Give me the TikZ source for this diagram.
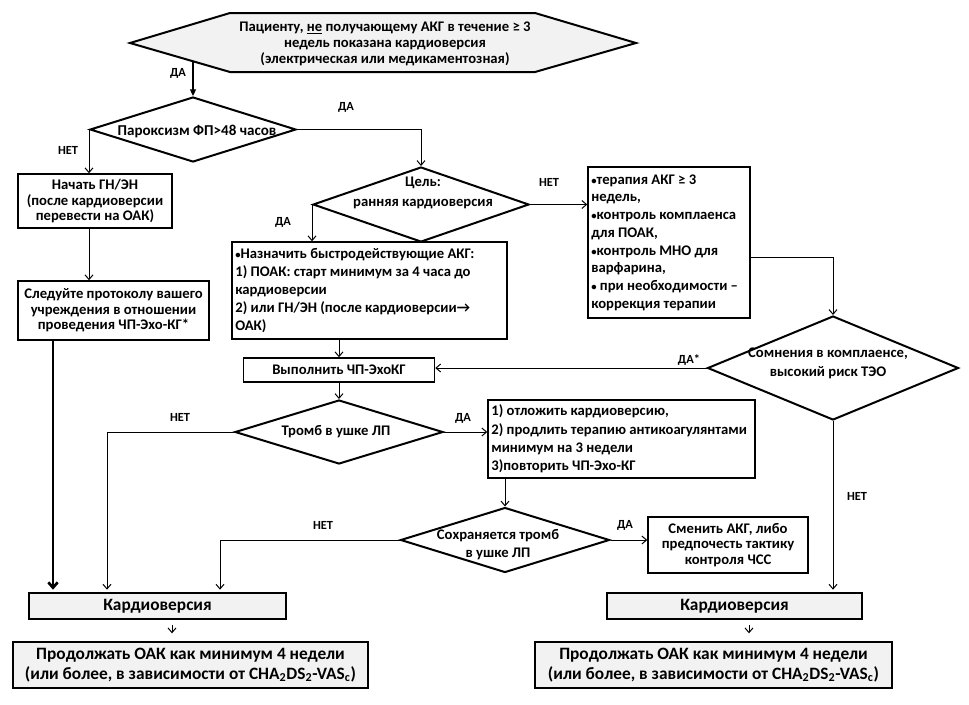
\documentclass[tikz,border=0pt]{standalone}
\usepackage{fontspec}
\setmainfont{Carlito}
\usetikzlibrary{arrows.meta,shapes.geometric,calc}
\definecolor{lightfill}{RGB}{242,242,242}
\begin{document}
\begin{tikzpicture}[x=0.75pt,y=-0.75pt,
  every node/.style={font=\bfseries\fontsize{11}{11.6}\selectfont, text=black},
  boxc/.style={draw, line width=1.1pt, inner sep=0pt, align=center},
  boxl/.style={draw, line width=1.1pt, inner xsep=2.5pt, inner ysep=0pt, align=flush left},
  graybox/.style={draw, line width=1pt, fill=lightfill, inner sep=0pt, align=center,
     font=\bfseries\fontsize{13}{15}\selectfont},
  decision/.style={draw, diamond, line width=1.5pt, inner sep=0pt, fill=white},
  dtext/.style={align=center, inner sep=0pt},
  lbl/.style={font=\bfseries\fontsize{9.3}{10}\selectfont, inner sep=0pt},
  arr/.style={line width=0.75pt, -{Straight Barb[length=3.5pt,width=6pt]}},
  thickarr/.style={line width=2.2pt, -{Straight Barb[length=4pt,width=7pt,line width=2pt]}},
  filledarr/.style={line width=0.8pt, -{Triangle[length=5pt,width=4.5pt]}},
]
\useasboundingbox (0,0) rectangle (969,704);

% top hexagon
\draw[line width=1.5pt, fill=lightfill] (130,43) -- (230,13) -- (535,13) -- (636,43) -- (535,72) -- (230,72) -- cycle;
\node[dtext, font=\bfseries\fontsize{11}{12.2}\selectfont] (hex) at (385,44)
  {Пациенту, \underline{не} получающему АКГ в течение ≥ 3\\недель показана кардиоверсия\\(электрическая или медикаментозная)};
\coordinate (hexout) at (193,61.5);

% decisions
\node[decision, minimum width=154.5pt, minimum height=48.75pt] (d1) at (193,129.5) {};
\node[dtext, font=\bfseries\fontsize{11.3}{12}\selectfont] (d1t) at (197,131) {Пароксизм ФП>48 часов};

\node[decision, minimum width=162pt, minimum height=56.25pt] (d2) at (421,204.5) {};
\node[dtext, font=\bfseries\fontsize{11}{15}\selectfont] (d2t) at (423,193) {Цель:\\ранняя кардиоверсия};

\node[decision, minimum width=188.25pt, minimum height=78pt] (d3) at (833,368) {};
\node[dtext, font=\bfseries\fontsize{11}{14.2}\selectfont] (d3t) at (828,363) {Сомнения в комплаенсе,\\высокий риск ТЭО};

\node[decision, minimum width=156pt, minimum height=48pt] (d4) at (339,432) {};
\node[dtext] (d4t) at (336,432) {Тромб в ушке ЛП};

\node[decision, minimum width=156.75pt, minimum height=48.75pt] (d5) at (505,540) {};
\node[dtext, font=\bfseries\fontsize{11}{13.5}\selectfont] (d5t) at (498,545) {Сохраняется тромб\\в ушке ЛП};

% boxes
\node[boxc, minimum width=115.5pt, minimum height=40.5pt] (nachat) at (95,201)
  {Начать ГН/ЭН\\(после кардиоверсии\\перевести на ОАК)};
\node[boxc, minimum width=143.25pt, minimum height=44.25pt] (sled) at (113.5,310.5)
  {Следуйте протоколу вашего\\учреждения в отношении\\проведения ЧП-Эхо-КГ*};
\node[boxl, text width=201.25pt, minimum height=72.75pt, font=\bfseries\fontsize{11}{13.6}\selectfont] (nazn) at (369.5,290.5)
  {{\fontsize{8}{8}\selectfont•}Назначить быстродействующие АКГ:\\1) ПОАК: старт минимум за 4 часа до\\кардиоверсии\\2) или ГН/ЭН (после кардиоверсии→\\ОАК)};
\node[boxl, text width=116.5pt, minimum height=113.25pt, font=\bfseries\fontsize{11}{13.3}\selectfont] (ter) at (669,242.5)
  {{\fontsize{8}{8}\selectfont•}терапия АКГ ≥ 3\\недель,\\{\fontsize{8}{8}\selectfont•}контроль комплаенса\\для ПОАК,\\{\fontsize{8}{8}\selectfont•}контроль МНО для\\варфарина,\\{\fontsize{8}{8}\selectfont•} при необходимости –\\коррекция терапии};
\node[boxc, minimum width=143.25pt, minimum height=18pt] (vyp) at (339,370) {Выполнить ЧП-ЭхоКГ};
\node[boxl, text width=195.25pt, minimum height=58.5pt, font=\bfseries\fontsize{11}{13.7}\selectfont] (otl) at (621.5,439)
  {1) отложить кардиоверсию,\\2) продлить терапию антикоагулянтами\\минимум на 3 недели\\3)повторить ЧП-Эхо-КГ};
\node[boxc, minimum width=120pt, minimum height=42pt] (smen) at (728,545)
  {Сменить АКГ, либо\\предпочесть тактику\\контроля ЧСС};

\node[graybox, minimum width=192.75pt, minimum height=19.5pt] (kard1) at (157.5,606) {Кардиоверсия};
\node[graybox, minimum width=266.25pt, minimum height=34.5pt] (prod1) at (190.5,665)
  {Продолжать ОАК как минимум 4 недели\\(или более, в зависимости от CHA\textsubscript{2}DS\textsubscript{2}-VAS\textsubscript{c})};
\node[graybox, minimum width=191.25pt, minimum height=19.5pt] (kard2) at (734.5,606) {Кардиоверсия};
\node[graybox, minimum width=267.75pt, minimum height=34.5pt] (prod2) at (713.5,665)
  {Продолжать ОАК как минимум 4 недели\\(или более, в зависимости от CHA\textsubscript{2}DS\textsubscript{2}-VAS\textsubscript{c})};

% helper coordinates
\coordinate (xthick) at (53,0);
\coordinate (x107) at (107,0);
\coordinate (x220) at (220,0);
\coordinate (x172) at (172,0);
\coordinate (x749) at (749,0);
\coordinate (terout) at (750,257);

% connectors
\draw[filledarr] (hexout) -- (d1.north);
\draw[arr] (d1.west) -- (d1.west |- nachat.north);
\draw[arr] (d1.east) -| (d2.north);
\draw[arr] (d1.west |- nachat.south) -- (d1.west |- sled.north);
\draw[thickarr, shorten >=2pt] (xthick |- sled.south) -- (xthick |- kard1.north);
\draw[arr] (d2.west) -- (d2.west |- nazn.north);
\draw[arr] (d2.east) -- (d2.east -| ter.west);
\draw[arr] (terout) -| (d3.north);
\draw[arr] (vyp.north |- nazn.south) -- (vyp.north);
\draw[arr] (d3.west) -- (d3.west -| vyp.east);
\draw[arr, shorten >=2pt] (d3.south) -- (d3.south |- kard2.north);
\draw[arr] (vyp.south) -- (d4.north);
\draw[arr, shorten >=2pt] (d4.west) -| (x107 |- kard1.north);
\draw[arr] (d4.east) -- (d4.east -| otl.west);
\draw[arr] (d5.north |- otl.south) -- (d5.north);
\draw[arr, shorten >=2pt] (d5.west) -| (x220 |- kard1.north);
\draw[arr] (d5.east) -- (d5.east -| smen.west);
\draw[arr, shorten <=4pt, shorten >=6pt] (x172 |- kard1.south) -- (x172 |- prod1.north);
\draw[arr, shorten <=4pt, shorten >=6pt] (x749 |- kard2.south) -- (x749 |- prod2.north);

% labels
\node[lbl] (l1) at (178,73) {ДА};
\node[lbl] (l2) at (346,107) {ДА};
\node[lbl] (l3) at (68,150) {НЕТ};
\node[lbl] (l4) at (283,222) {ДА};
\node[lbl] (l5) at (549,182) {НЕТ};
\node[lbl] (l6) at (689,360) {ДА*};
\node[lbl] (l7) at (180,417) {НЕТ};
\node[lbl] (l8) at (463,418) {ДА};
\node[lbl] (l9) at (323,525) {НЕТ};
\node[lbl] (l10) at (625,525) {ДА};
\node[lbl] (l11) at (857,496) {НЕТ};
\end{tikzpicture}
\end{document}
